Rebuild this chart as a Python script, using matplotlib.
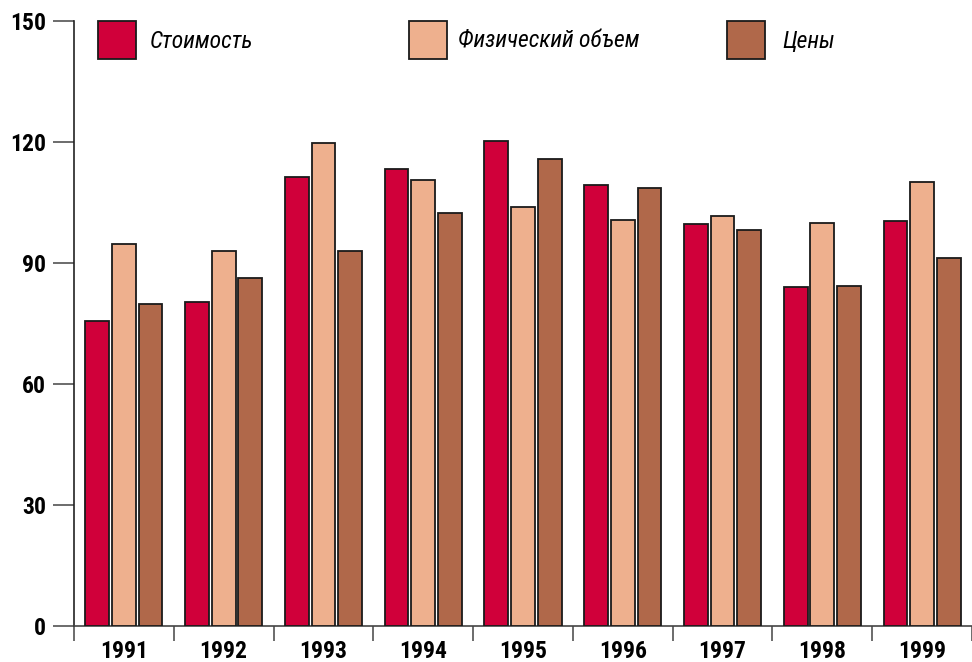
import numpy as np
import matplotlib.pyplot as plt
from matplotlib.patches import Rectangle

# Данные
years = ['1991', '1992', '1993', '1994', '1995', '1996', '1997', '1998', '1999']
stoimost = [75.6, 80.3, 111.3, 113.3, 120.3, 109.3, 99.7, 84.1, 100.4]
fiz_obem = [94.7, 93.0, 119.8, 110.6, 103.9, 100.7, 101.7, 99.9, 110.1]
tseny = [79.8, 86.3, 93.0, 102.4, 115.8, 108.6, 98.2, 84.3, 91.2]
yticks = [0, 30, 60, 90, 120, 150]

series = [
    ('Стоимость', stoimost, '#d0003a'),
    ('Физический объем', fiz_obem, '#eeb08e'),
    ('Цены', tseny, '#b0684a'),
]

fam = ['Roboto Condensed', 'DejaVu Sans']

fig = plt.figure(figsize=(9.72, 6.62), dpi=100)
ax = fig.add_axes([74 / 972, 36 / 662, 898 / 972, 605 / 662])

x = np.arange(len(years)) + 0.5
w = 0.238
step = 0.267
for i, (name, vals, col) in enumerate(series):
    ax.bar(x + (i - 1) * step, vals, width=w, color=col,
           edgecolor='#1a1a1a', linewidth=1.3, zorder=3)

ax.set_xlim(0, 898 / 101)
ax.set_ylim(0, 150)

for s in ['top', 'right']:
    ax.spines[s].set_visible(False)
ax.spines['left'].set_color('#222222')
ax.spines['bottom'].set_color('#444444')
ax.spines['left'].set_linewidth(1.2)
ax.spines['bottom'].set_linewidth(1.2)

ax.set_yticks(yticks)
ax.set_yticklabels([str(t) for t in yticks], family=fam,
                   fontweight='bold', fontsize=17)
ax.tick_params(axis='y', length=15, width=1.1, color='#444444', pad=5)

# Деления по границам групп, подписи — по центрам
ax.set_xticks(np.arange(len(years) + 1))
ax.set_xticklabels([])
ax.tick_params(axis='x', length=11, width=1.1, color='#444444')
for xi, yr in zip(x, years):
    ax.text(xi, -3.5, yr, ha='center', va='top', family=fam,
            fontweight='bold', fontsize=17, clip_on=False)

# Легенда
leg_pos = [(98, 150), (409, 458), (727, 782)]
for (name, vals, col), (bx, tx) in zip(series, leg_pos):
    fig.patches.append(Rectangle((bx / 972, 1 - 59 / 662), 38 / 972, 38 / 662,
                                 transform=fig.transFigure, facecolor=col,
                                 edgecolor='#1a1a1a', linewidth=1.3))
    fig.text(tx / 972, 1 - 41 / 662, name, family=fam, style='italic',
             fontsize=17, ha='left', va='center')

plt.savefig('out.png', dpi=100)
